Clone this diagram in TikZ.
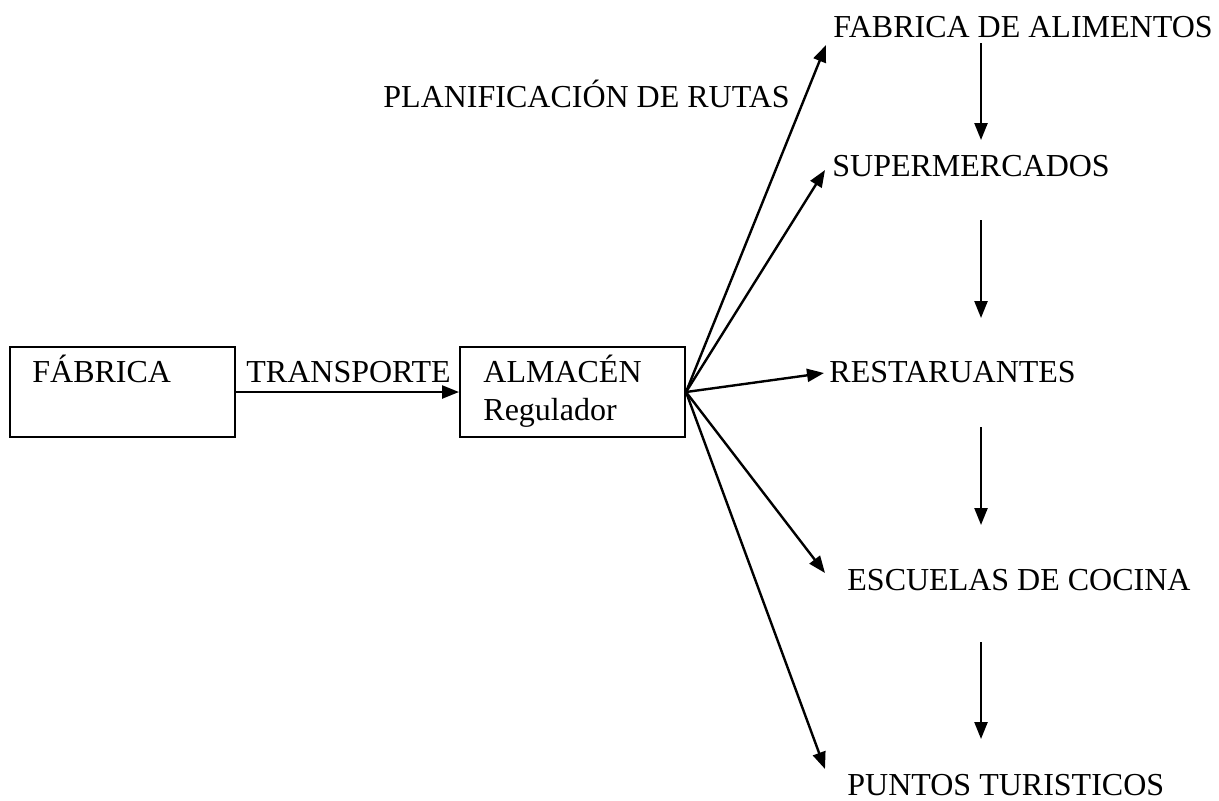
\documentclass[tikz,border=0pt]{standalone}
\usepackage{fontspec}
\setmainfont{Liberation Serif}
\usetikzlibrary{arrows.meta}
\begin{document}
\begin{tikzpicture}[x=0.5pt,y=-0.5pt,
  every node/.style={font=\fontsize{16pt}{19pt}\selectfont},
  lbl/.style={anchor=base west,inner sep=0pt},
  box/.style={draw,line width=1pt,minimum width=112.5pt,minimum height=45pt,inner sep=0pt},
  arr/.style={line width=1.2pt,-{Triangle[length=8.5pt,width=6.5pt]}}]
\useasboundingbox (0,0) rectangle (1219,800);
% boxes
\node[box] (fab) at (122.5,392) {};
\node[box] (alm) at (572.5,392) {};
\node[lbl] (tfab) at (32,382) {FÁBRICA};
\node[lbl] (talm) at (483,382) {ALMACÉN};
\node[lbl] (treg) at (483,420) {Regulador};
\node[lbl] (ttra) at (246,382) {TRANSPORTE};
\node[lbl] (tplan) at (383,107) {PLANIFICACIÓN DE RUTAS};
% destinations
\node[lbl] (fa) at (833,37) {FABRICA DE ALIMENTOS};
\node[lbl] (su) at (832,176) {SUPERMERCADOS};
\node[lbl] (re) at (829,382) {RESTARUANTES};
\node[lbl] (es) at (847,590) {ESCUELAS DE COCINA};
\node[lbl] (pu) at (847,795) {PUNTOS TURISTICOS};
% arrow tips
\coordinate (kfa) at (826,45);
\coordinate (ksu) at (825,170);
\coordinate (kre) at (824,373);
\coordinate (kes) at (825,573);
\coordinate (kpu) at (825,769);
\coordinate (v1a) at (981,43);  \coordinate (v1b) at (981,140);
\coordinate (v2a) at (981,220); \coordinate (v2b) at (981,318);
\coordinate (v3a) at (981,427); \coordinate (v3b) at (981,525);
\coordinate (v4a) at (981,642); \coordinate (v4b) at (981,739);
% connectors
\draw[arr] (fab.east) -- (alm.west);
\foreach \t in {kfa,ksu,kre,kes,kpu} \draw[arr] (alm.east) -- (\t);
\draw[arr] (v1a) -- (v1b);
\draw[arr] (v2a) -- (v2b);
\draw[arr] (v3a) -- (v3b);
\draw[arr] (v4a) -- (v4b);
\end{tikzpicture}
\end{document}
